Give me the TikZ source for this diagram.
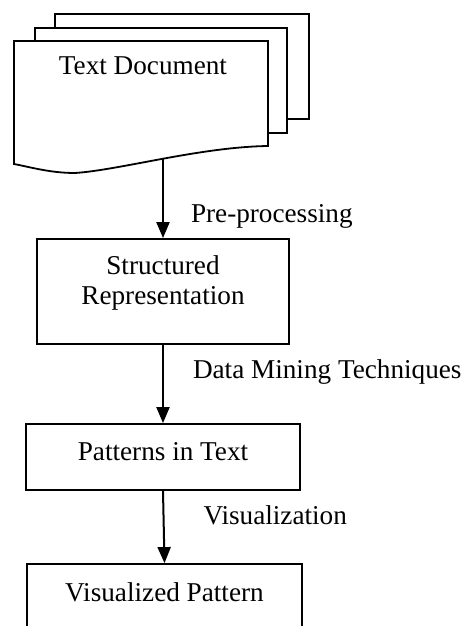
\documentclass[tikz,border=0pt]{standalone}
\usepackage{fontspec}
\setmainfont{Liberation Serif}
\usetikzlibrary{arrows.meta, positioning}

\tikzset{
  box/.style={draw, line width=0.9pt, fill=white, inner sep=0pt},
  boxtext/.style={font=\fontsize{13.6}{15}\selectfont, align=center, inner sep=0pt},
  flowarrow/.style={line width=1pt, -{Triangle[length=8pt, width=6.5pt]}},
  steplabel/.style={font=\fontsize{13.6}{15}\selectfont, anchor=west, inner sep=0pt}
}

\begin{document}
\begin{tikzpicture}[x=0.5pt, y=-0.5pt, line width=0.9pt]
  \clip (0,0) rectangle (465,626);

  % Stacked pages of the document
  \draw[fill=white] (55,14) rectangle (309,119);
  \draw[fill=white] (35,28) rectangle (287,133);
  \draw[fill=white] (14,41) -- (268,41) -- (268,146)
    .. controls (200,147) and (120,170) .. (75,173)
    .. controls (50,173) and (30,167) .. (14,164) -- cycle;
  \coordinate (docbottom) at (163,159);
  \node[boxtext] (doctext) at (143,66) {Text Document};

  % Process boxes
  \node[box, minimum width=126pt, minimum height=52.5pt] (struct) at (163,291.5) {};
  \node[boxtext] (structtext) at (163,283) {Structured\\Representation};

  \node[box, minimum width=137pt, minimum height=33pt] (patterns) at (163,457) {};
  \node[boxtext] (patternstext) at (163,452) {Patterns in Text};

  \node[box, minimum width=137.5pt, minimum height=50pt] (vispat) at (164.5,614) {};
  \node[boxtext] (vispattext) at (164.5,592) {Visualized Pattern};

  % Steps between the boxes
  \draw[flowarrow] (docbottom) -- (struct.north)
    node[steplabel, pos=0.725, xshift=13.5pt] (preproc) {Pre-processing};
  \draw[flowarrow] (struct.south) -- (patterns.north)
    node[steplabel, pos=0.35, xshift=14.5pt] (mining) {Data Mining Techniques};
  \draw[flowarrow] (patterns.south) -- (vispat.north)
    node[steplabel, pos=0.34, xshift=19.5pt] (visual) {Visualization};
\end{tikzpicture}
\end{document}
